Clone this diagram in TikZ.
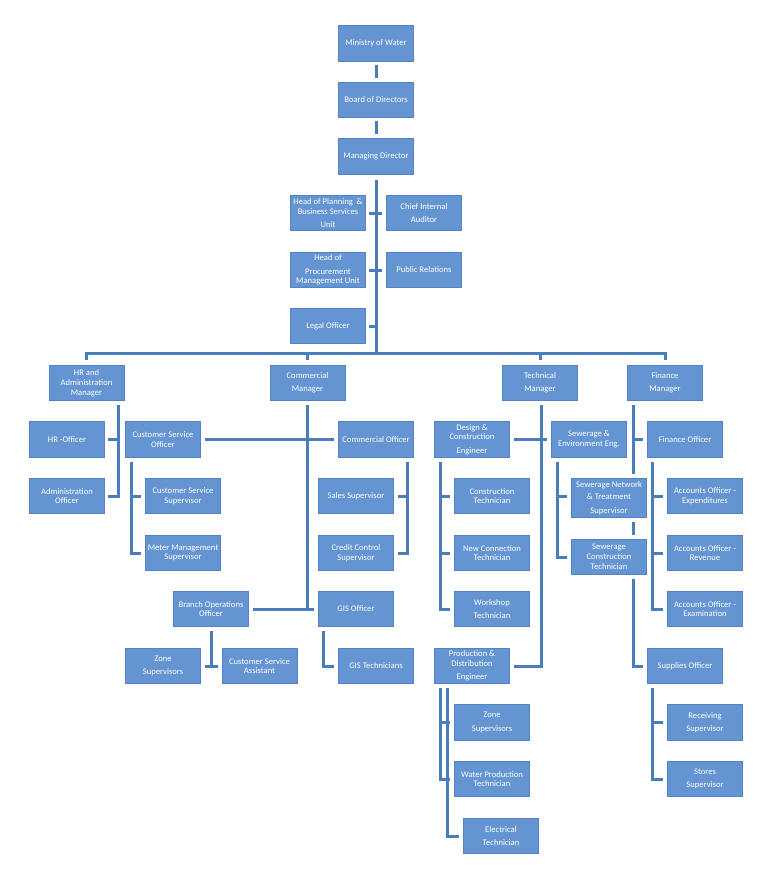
\documentclass[tikz,border=0pt]{standalone}
\usepackage{fontspec}
\setmainfont{Carlito}
\usetikzlibrary{calc}
\definecolor{boxfill}{HTML}{6495D2}
\definecolor{boxdraw}{HTML}{5283C2}
\definecolor{linecol}{HTML}{4A7EBB}
\tikzset{
  box/.style={rectangle, fill=boxfill, draw=boxdraw, line width=0.8pt,
    minimum width=75pt, minimum height=35.5pt, inner sep=1pt, text=white,
    align=center, font=\fontsize{8.6}{9.8}\selectfont},
  conn/.style={draw=linecol, line width=3pt},
}
\begin{document}
\begin{tikzpicture}[x=1pt,y=-1pt]
\fill[white] (0,0) rectangle (770,876);
\useasboundingbox (0,0) rectangle (770,876);
% top
\node[box] (min) at (376,43.5) {Ministry of Water};
\node[box] (board) at (376,100) {Board of Directors};
\node[box] (md) at (376,156.5) {Managing Director};
\node[box] (plan) at (328,213) {Head of Planning \ \&\\Business Services\\[2.5pt]Unit};
\node[box] (audit) at (424,213) {Chief Internal\\[3.5pt]Auditor};
\node[box] (proc) at (328,270) {Head of\\[3.5pt]Procurement\\Management Unit};
\node[box] (pr) at (424,270) {Public Relations};
\node[box] (legal) at (328,326) {Legal Officer};
% managers
\node[box] (hr) at (86.5,383) {HR and\\Administration\\Manager};
\node[box] (com) at (307.5,383) {Commercial\\[3.5pt]Manager};
\node[box] (tech) at (540,383) {Technical\\[3.5pt]Manager};
\node[box] (fin) at (665,383) {Finance\\[3.5pt]Manager};
% HR / commercial
\node[box] (hro) at (67,439.5) {HR -Officer};
\node[box] (ado) at (67,496) {Administration\\Officer};
\node[box] (cso) at (163,439.5) {Customer Service\\Officer};
\node[box] (css) at (183,496) {Customer Service\\Supervisor};
\node[box] (mms) at (183,553) {Meter Management\\Supervisor};
\node[box] (co) at (376,439.5) {Commercial Officer};
\node[box] (ss) at (356,496) {Sales Supervisor};
\node[box] (ccs) at (356,553) {Credit Control\\Supervisor};
\node[box] (boo) at (211,609) {Branch Operations\\Officer};
\node[box] (gis) at (356,609) {GIS Officer};
\node[box] (zsa) at (163,666) {Zone\\[3.5pt]Supervisors};
\node[box] (csa) at (259.5,666) {Customer Service\\Assistant};
\node[box] (gist) at (376,666) {GIS Technicians};
% technical
\node[box] (dce) at (472,439.5) {Design \&\\Construction\\[3.5pt]Engineer};
\node[box] (see) at (589,439.5) {Sewerage \&\\Environment Eng.};
\node[box] (ct) at (492,496) {Construction\\Technician};
\node[box] (nct) at (492,553) {New Connection\\Technician};
\node[box] (wt) at (492,609) {Workshop\\[3.5pt]Technician};
\node[box] (pde) at (472,666) {Production \&\\Distribution\\[3.5pt]Engineer};
\node[box, minimum height=39.5pt] (snts) at (609,498) {Sewerage Network\\[2.8pt]\& Treatment\\[3.5pt]Supervisor};
\node[box] (sct) at (609,557) {Sewerage\\Construction\\Technician};
\node[box] (zsb) at (492,722.5) {Zone\\[3.5pt]Supervisors};
\node[box] (wpt) at (492,779) {Water Production\\Technician};
\node[box] (et) at (501,836) {Electrical\\[3.5pt]Technician};
% finance
\node[box] (fo) at (685,439.5) {Finance Officer};
\node[box] (aoe) at (705,496) {Accounts Officer -\\Expenditures};
\node[box] (aor) at (705,553) {Accounts Officer -\\Revenue};
\node[box] (aox) at (705,609) {Accounts Officer -\\Examination};
\node[box] (so) at (685,666) {Supplies Officer};
\node[box] (rs) at (705,722.5) {Receiving\\[3.5pt]Supervisor};
\node[box] (sts) at (705,779) {Stores\\[3.5pt]Supervisor};

% ---- connectors ----
\draw[conn] ([yshift=-3pt]min.south) -- ([yshift=4pt]board.north);
\draw[conn] ([yshift=-3pt]board.south) -- ([yshift=4pt]md.north);
\coordinate (bar) at ($(md.south)+(0,179)$);
\draw[conn] ([yshift=-5pt]md.south) -- (bar);
\draw[conn] ([xshift=3pt]plan.east) -- ([xshift=-4pt]audit.west);
\draw[conn] ([xshift=3pt]proc.east) -- ([xshift=-4pt]pr.west);
\draw[conn] ([xshift=3pt]legal.east) -- (md.south |- legal.east);
\draw[conn] ([yshift=5pt]hr.north) -- (hr.north |- bar) -- (fin.north |- bar) -- ([yshift=5pt]fin.north);
\draw[conn] (com.north |- bar) -- ([yshift=5pt]com.north);
\draw[conn] (tech.north |- bar) -- ([yshift=5pt]tech.north);
% HR
\coordinate (hrt) at ([xshift=31.5pt]hr.south);
\draw[conn] ([yshift=-4pt]hrt) |- ([xshift=3pt]ado.east);
\draw[conn] ([xshift=3pt]hro.east) -- (hro.east -| hrt);
% CSO to CO
\draw[conn] ([xshift=4pt]cso.east) -- ([xshift=-4pt]co.west);
\coordinate (cst) at ([xshift=-32pt]cso.south);
\draw[conn] ([yshift=-4pt]cst) |- ([xshift=-4pt]mms.west);
\draw[conn] (cst |- css.west) -- ([xshift=-4pt]css.west);
% commercial trunk
\draw[conn] ([yshift=-4pt]com.south) -- (com.south |- boo.east);
\draw[conn] ([xshift=4pt]boo.east) -- ([xshift=-4pt]gis.west);
\coordinate (cot) at ([xshift=31pt]co.south);
\draw[conn] ([yshift=-4pt]cot) |- ([xshift=4pt]ccs.east);
\draw[conn] (cot |- ss.east) -- ([xshift=4pt]ss.east);
\draw[conn] ([yshift=-4pt]boo.south) -- (boo.south |- zsa.east);
\draw[conn] ([xshift=4pt]zsa.east) -- ([xshift=-4pt]csa.west);
\draw[conn] ([xshift=-33pt,yshift=-4pt]gis.south) |- ([xshift=-4pt]gist.west);
% technical
\coordinate (tt) at ([xshift=1pt]tech.south);
\draw[conn] ([yshift=-4pt]tt) |- ([xshift=4pt]pde.east);
\draw[conn] ([xshift=4pt]dce.east) -- ([xshift=-4pt]see.west);
\coordinate (dct) at ([xshift=-32pt]dce.south);
\draw[conn] ([yshift=-4pt]dct) |- ([xshift=-4pt]wt.west);
\draw[conn] (dct |- ct.west) -- ([xshift=-4pt]ct.west);
\draw[conn] (dct |- nct.west) -- ([xshift=-4pt]nct.west);
\coordinate (set) at ([xshift=-32pt]see.south);
\draw[conn] ([yshift=-4pt]set) |- ([xshift=-4pt]sct.west);
\draw[conn] (set |- css.west) -- ([xshift=-4pt]snts.west |- css.west);
\draw[conn] ([xshift=24pt,yshift=-4pt]snts.south) -- ([xshift=24pt,yshift=4pt]sct.north);
\draw[conn] ([xshift=24pt,yshift=-4pt]sct.south) |- ([xshift=-4pt]so.west);
\coordinate (pdt) at ([xshift=-32pt]pde.south);
\draw[conn] ([yshift=-4pt]pdt) |- ([xshift=-4pt]wpt.west);
\draw[conn] (pdt |- zsb.west) -- ([xshift=-4pt]zsb.west);
\draw[conn] ([xshift=-25pt,yshift=-4pt]pde.south) |- ([xshift=-4pt]et.west);
% finance
\coordinate (fint) at ([xshift=-32pt]fin.south);
\draw[conn, shorten >=4pt] ([yshift=-4pt]fint) -- (fint |- snts.north);
\draw[conn] (fint |- fo.west) -- ([xshift=-4pt]fo.west);
\coordinate (fot) at ([xshift=-33pt]fo.south);
\draw[conn] ([yshift=-4pt]fot) |- ([xshift=-4pt]aox.west);
\draw[conn] (fot |- aoe.west) -- ([xshift=-4pt]aoe.west);
\draw[conn] (fot |- aor.west) -- ([xshift=-4pt]aor.west);
\coordinate (sot) at ([xshift=-33pt]so.south);
\draw[conn] ([yshift=-4pt]sot) |- ([xshift=-4pt]sts.west);
\draw[conn] (sot |- rs.west) -- ([xshift=-4pt]rs.west);
\end{tikzpicture}
\end{document}
